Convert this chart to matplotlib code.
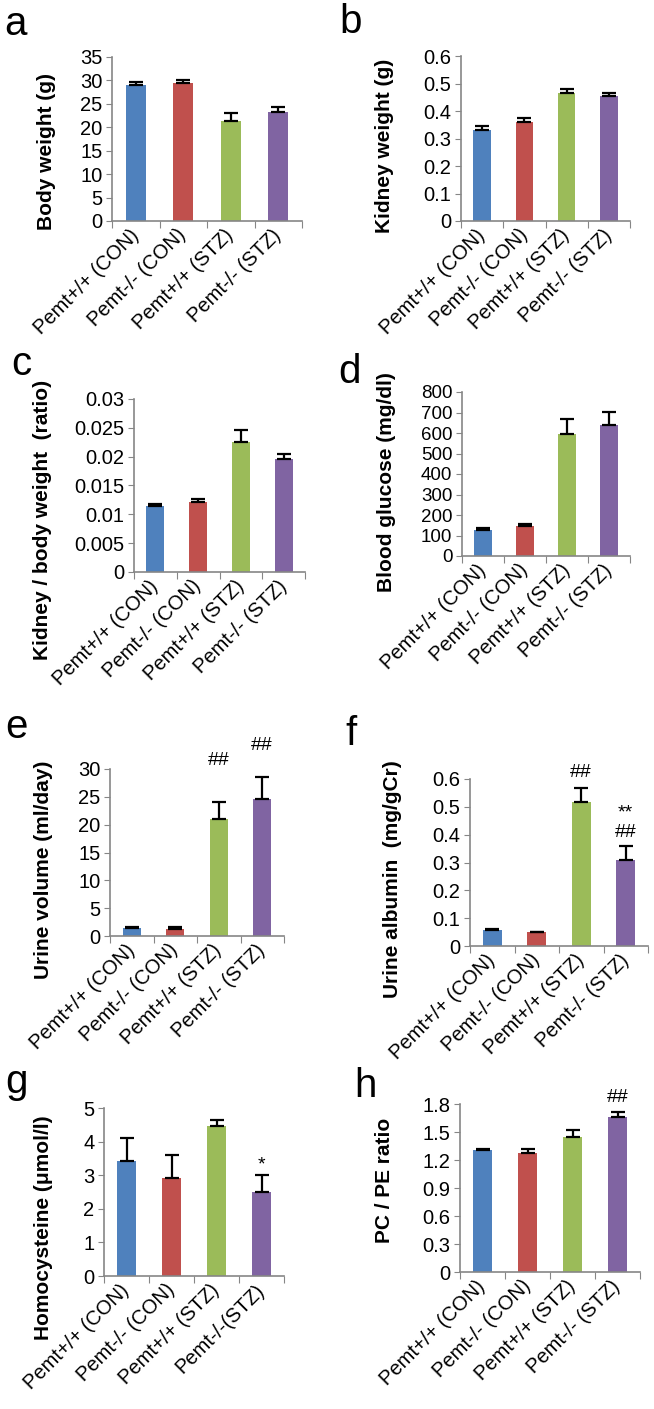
import numpy as np
import matplotlib
matplotlib.use('Agg')
from matplotlib import pyplot as plt

plt.rcParams['font.family'] = ['Liberation Sans', 'DejaVu Sans']

# group names and Excel-like colours
groups = ['Pemt+/+ (CON)', 'Pemt-/- (CON)', 'Pemt+/+ (STZ)', 'Pemt-/- (STZ)']
groups_g = ['Pemt+/+ (CON)', 'Pemt-/- (CON)', 'Pemt+/+ (STZ)', 'Pemt-/-(STZ)']
bar_colors = ['#4F81BD', '#C0504D', '#9BBB59', '#8064A2']

# values (mean, upper error)
body_weight = [29.0, 29.5, 21.3, 23.3]
body_weight_err = [0.6, 0.6, 1.7, 1.1]
kidney_weight = [0.330, 0.360, 0.466, 0.453]
kidney_weight_err = [0.015, 0.014, 0.015, 0.014]
kidney_ratio = [0.0114, 0.0122, 0.0225, 0.0196]
kidney_ratio_err = [0.0004, 0.0004, 0.0021, 0.0009]
glucose = [125, 145, 594, 641]
glucose_err = [11, 13, 72, 62]
urine_volume = [1.5, 1.3, 21.1, 24.7]
urine_volume_err = [0.15, 0.25, 3.0, 3.9]
albumin = [0.059, 0.049, 0.519, 0.310]
albumin_err = [0.002, 0.003, 0.050, 0.048]
homocysteine = [3.42, 2.93, 4.46, 2.49]
homocysteine_err = [0.70, 0.67, 0.18, 0.52]
pc_pe = [1.31, 1.28, 1.445, 1.664]
pc_pe_err = [0.012, 0.035, 0.075, 0.047]

W, H = 654, 1409
fig = plt.figure(figsize=(W / 100, H / 100), dpi=100)


def px_axes(l, t, r, b):
    return fig.add_axes([l / W, 1 - b / H, (r - l) / W, (b - t) / H])


def draw_panel(rect, vals, errs, top, step, ylabel, lab_xy, letter, let_xy,
               names=groups, marks=(), tick_size=14.5):
    ax = px_axes(*rect)
    x = np.arange(len(vals))
    ax.bar(x, vals, width=0.42, color=bar_colors, zorder=2)
    ax.errorbar(x, vals, yerr=[np.zeros(len(errs)), errs], fmt='none',
                ecolor='black', elinewidth=1.6, capsize=5, capthick=1.6, zorder=3)
    ax.set_xlim(-0.5, len(vals) - 0.5)
    ax.set_ylim(0, top)
    ticks = np.arange(0, top + step / 2, step)
    ax.set_yticks(ticks)
    ax.set_yticklabels(['%g' % round(t, 4) for t in ticks], fontsize=tick_size)
    # boundary ticks on the x axis, names on minor ticks at the bar centres
    ax.set_xticks(np.arange(-0.5, len(vals), 1.0))
    ax.set_xticklabels([])
    ax.set_xticks(x, minor=True)
    ax.set_xticklabels(names, minor=True, rotation=45, ha='right',
                       va='center', rotation_mode='anchor', fontsize=14.5)
    ax.tick_params(axis='x', which='minor', length=0, pad=8)
    ax.tick_params(axis='x', which='major', length=5, color='#868686')
    ax.tick_params(axis='y', length=4, color='#868686', pad=3)
    for s in ['top', 'right']:
        ax.spines[s].set_visible(False)
    for s in ['left', 'bottom']:
        ax.spines[s].set_color('#868686')
        ax.spines[s].set_linewidth(1.2)
    fig.text(lab_xy[0] / W, 1 - lab_xy[1] / H, ylabel, rotation=90,
             ha='center', va='center', fontsize=15, fontweight='bold')
    fig.text(let_xy[0] / W, 1 - let_xy[1] / H, letter, fontsize=29,
             ha='left', va='baseline')
    for i, y, txt in marks:
        ax.text(i, y, txt, ha='center', va='center', fontsize=14, clip_on=False)
    return ax


draw_panel((112, 57, 302, 221), body_weight, body_weight_err, 35, 5,
           'Body weight (g)', (47, 152), 'a', (4, 35))
draw_panel((461, 56, 630, 221), kidney_weight, kidney_weight_err, 0.6, 0.1,
           'Kidney weight (g)', (384, 146), 'b', (339, 33))
draw_panel((134, 399, 305, 572), kidney_ratio, kidney_ratio_err, 0.03, 0.005,
           'Kidney / body weight  (ratio)', (43, 520), 'c', (11, 375))
draw_panel((462, 392, 630, 556), glucose, glucose_err, 800, 100,
           'Blood glucose (mg/dl)', (386, 482), 'd', (338, 383), tick_size=13.5)
draw_panel((110, 769, 284, 936), urine_volume, urine_volume_err, 30, 5,
           'Urine volume (ml/day)', (44, 870), 'e', (5, 738),
           marks=[(2, 31.6, '##'), (3, 34.3, '##')])
draw_panel((470, 779, 648, 946), albumin, albumin_err, 0.6, 0.1,
           'Urine albumin  (mg/gCr)', (393, 879), 'f', (345, 745),
           marks=[(2, 0.622, '##'), (3, 0.478, '**'), (3, 0.406, '##')])
draw_panel((104, 1108, 284, 1276), homocysteine, homocysteine_err, 5, 1,
           'Homocysteine (\u03bcmol/l)', (44, 1228), 'g', (5, 1093),
           names=groups_g, marks=[(3, 3.3, '*')])
draw_panel((460, 1104, 640, 1272), pc_pe, pc_pe_err, 1.8, 0.3,
           'PC / PE ratio', (384, 1180), 'h', (354, 1097),
           marks=[(3, 1.865, '##')])

plt.savefig('out.png', dpi=100, facecolor='white')
